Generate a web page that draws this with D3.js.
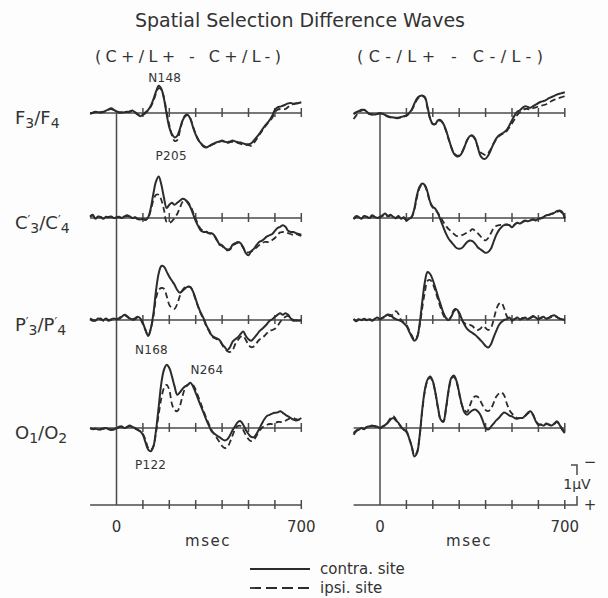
<!DOCTYPE html>
<html><head><meta charset="utf-8">
<script src="https://cdn.jsdelivr.net/npm/d3@7"></script>
<style>
body{margin:0;background:#fdfdfd;}
svg{display:block;}
text{font-family:"DejaVu Sans",sans-serif;fill:#333;}
</style></head><body>
<svg id="c" width="608" height="598"></svg>
<script>
// ---- data ----
const times = d3.range(-100, 701, 10);           // msec, one sample each 10 ms
const xTickValues = [100, 200, 300, 400, 500, 600, 700];
const xTickLabels = ["0", "700"];
const title = "Spatial Selection Difference Waves";
const conditions = ["(C+/L+ - C+/L-)", "(C-/L+ - C-/L-)"];
const seriesNames = ["contra. site", "ipsi. site"];
// values in microvolts, negative plotted upward

const fLeftContra = [0.01,-0.01,-0.03,-0.02,-0.02,-0.03,-0.06,-0.09,-0.12,-0.08,
 -0.04,-0.02,-0.01,-0.02,-0.03,-0.04,-0.06,-0.02,0.03,0.08,
 0.04,-0.02,-0.08,-0.18,-0.35,-0.54,-0.68,-0.6,-0.35,0.03,
 0.36,0.53,0.61,0.57,0.4,0.19,0.08,0.05,0.15,0.36,
 0.54,0.68,0.76,0.84,0.86,0.83,0.79,0.76,0.73,0.71,
 0.69,0.72,0.73,0.71,0.69,0.71,0.73,0.74,0.76,0.78,
 0.78,0.76,0.69,0.61,0.53,0.43,0.34,0.26,0.18,0.07,
 -0.08,-0.14,-0.16,-0.18,-0.21,-0.24,-0.25,-0.23,-0.24,-0.25,
 -0.27];
const fLeftIpsi = [0.02,0.0,-0.02,-0.03,-0.01,-0.02,-0.05,-0.08,-0.1,-0.07,
 -0.03,-0.01,-0.02,-0.03,-0.02,-0.03,-0.05,-0.01,0.04,0.07,
 0.05,0.0,-0.06,-0.16,-0.3,-0.5,-0.62,-0.58,-0.38,-0.02,
 0.3,0.56,0.7,0.68,0.45,0.2,0.06,0.04,0.14,0.34,
 0.52,0.66,0.76,0.82,0.85,0.84,0.8,0.77,0.74,0.72,
 0.7,0.73,0.75,0.73,0.72,0.73,0.75,0.77,0.79,0.8,
 0.8,0.82,0.75,0.66,0.56,0.46,0.37,0.28,0.2,0.12,
 -0.02,-0.08,-0.1,-0.1,-0.1,-0.15,-0.2,-0.22,-0.24,-0.24,
 -0.25];
const fRightContra = [0.03,-0.02,-0.05,-0.08,-0.08,-0.03,0.02,0.03,0.04,0.02,
 0,0.02,0.05,0.08,0.1,0.11,0.12,0.12,0.1,0.08,
 0.06,0,-0.08,-0.23,-0.36,-0.42,-0.44,-0.4,-0.15,0.14,
 0.27,0.27,0.18,0.18,0.27,0.43,0.64,0.85,1.02,1.08,
 1.08,1.0,0.85,0.68,0.58,0.56,0.64,0.85,1.06,1.14,
 1.14,1.06,0.92,0.77,0.64,0.56,0.52,0.48,0.42,0.31,
 0.18,0.06,-0.03,-0.07,-0.13,-0.17,-0.15,-0.13,-0.17,-0.21,
 -0.25,-0.28,-0.3,-0.33,-0.37,-0.4,-0.43,-0.46,-0.48,-0.5,
 -0.52];
const fRightIpsi = [0.15,0.06,-0.03,-0.06,-0.07,-0.02,0.03,0.04,0.05,0.03,
 0.01,0.03,0.06,0.09,0.11,0.12,0.13,0.13,0.11,0.09,
 0.07,0.01,-0.07,-0.2,-0.33,-0.4,-0.42,-0.38,-0.12,0.15,
 0.28,0.28,0.2,0.2,0.28,0.45,0.66,0.86,1.0,1.06,
 1.06,0.98,0.84,0.68,0.6,0.58,0.66,0.84,0.98,1.02,
 1.05,1.0,0.9,0.77,0.66,0.58,0.54,0.5,0.45,0.36,
 0.26,0.15,0.05,-0.02,-0.08,-0.1,-0.1,-0.08,-0.12,-0.14,
 -0.16,-0.18,-0.2,-0.22,-0.26,-0.3,-0.33,-0.36,-0.38,-0.4,
 -0.42];
const cLeftContra = [-0.04,-0.08,0.02,-0.04,-0.02,0.02,-0.03,-0.02,-0.04,0,
 -0.02,-0.03,0,-0.04,-0.07,-0.04,0,-0.02,0.02,0.04,
 0.02,0.05,-0.02,-0.25,-0.62,-0.92,-1.04,-0.83,-0.5,-0.25,
 -0.33,-0.38,-0.33,-0.38,-0.43,-0.48,-0.46,-0.38,-0.27,-0.1,
 0.07,0.21,0.32,0.35,0.35,0.38,0.38,0.43,0.54,0.65,
 0.68,0.75,0.79,0.77,0.67,0.63,0.6,0.63,0.73,0.88,
 0.93,0.83,0.77,0.68,0.6,0.57,0.52,0.46,0.43,0.4,
 0.32,0.25,0.22,0.18,0.22,0.32,0.35,0.35,0.38,0.4,
 0.42];
const cLeftIpsi = [-0.02,-0.06,0.01,-0.03,-0.03,0.01,-0.02,-0.03,-0.03,0.01,
 -0.01,-0.02,0.01,-0.03,-0.05,-0.03,0.01,-0.01,0.03,0.05,
 0.03,0.04,-0.01,-0.2,-0.45,-0.58,-0.58,-0.45,-0.2,0.1,
 0.12,0.08,0.0,-0.1,-0.25,-0.4,-0.44,-0.4,-0.3,-0.15,
 0.02,0.17,0.28,0.33,0.34,0.38,0.4,0.45,0.56,0.67,
 0.7,0.77,0.81,0.79,0.69,0.65,0.62,0.65,0.75,0.85,
 0.86,0.84,0.8,0.74,0.68,0.65,0.6,0.6,0.6,0.55,
 0.5,0.42,0.36,0.35,0.35,0.38,0.4,0.42,0.4,0.42,
 0.45];
const cRightContra = [0.02,-0.05,-0.02,0.02,-0.05,-0.03,0,-0.07,-0.03,0,
 -0.03,-0.07,-0.11,-0.05,-0.08,-0.03,0,-0.05,0.02,-0.02,
 0.06,0.02,-0.03,-0.23,-0.57,-0.78,-0.86,-0.82,-0.65,-0.4,
 -0.28,-0.23,-0.11,0.06,0.23,0.39,0.52,0.6,0.68,0.75,
 0.77,0.75,0.68,0.6,0.56,0.58,0.64,0.73,0.78,0.83,
 0.87,0.85,0.77,0.6,0.43,0.31,0.23,0.18,0.17,0.18,
 0.23,0.17,0.12,0.14,0.1,0.06,0.08,0.06,0.03,0.06,
 0.02,0,-0.03,-0.07,-0.08,-0.11,-0.13,-0.17,-0.19,-0.15,
 0];
const cRightIpsi = [0.03,-0.03,-0.03,0.01,-0.04,-0.02,0.01,-0.05,-0.02,0.01,
 -0.02,-0.05,-0.09,-0.04,-0.06,-0.02,0.01,-0.03,0.03,0,
 0.05,0.03,-0.02,-0.2,-0.52,-0.75,-0.84,-0.8,-0.62,-0.38,
 -0.26,-0.2,-0.12,-0.02,0.1,0.2,0.28,0.33,0.4,0.45,
 0.45,0.43,0.4,0.36,0.33,0.28,0.32,0.38,0.45,0.52,
 0.56,0.5,0.38,0.26,0.2,0.18,0.17,0.16,0.16,0.18,
 0.22,0.16,0.12,0.13,0.1,0.07,0.08,0.05,0.04,0.06,
 0.03,0.01,-0.02,-0.06,-0.08,-0.1,-0.12,-0.15,-0.17,-0.12,
 0.02];
const pLeftContra = [-0.04,0,0.02,-0.04,-0.02,0,-0.04,0,-0.02,-0.04,
 -0.02,-0.03,-0.08,-0.13,-0.1,-0.04,-0.02,-0.04,-0.08,-0.04,
 0.08,0.25,0.4,0.21,-0.17,-0.75,-1.17,-1.35,-1.33,-1.21,
 -1.08,-0.98,-0.88,-0.75,-0.68,-0.73,-0.79,-0.83,-0.82,-0.71,
 -0.52,-0.33,-0.17,-0.04,0.13,0.25,0.38,0.43,0.46,0.5,
 0.6,0.68,0.75,0.68,0.54,0.48,0.43,0.35,0.29,0.4,
 0.48,0.52,0.46,0.38,0.29,0.23,0.17,0.1,0.02,-0.02,
 -0.08,-0.13,-0.17,-0.13,-0.17,-0.13,-0.04,0.02,0,0.02,
 0];
const pLeftIpsi = [-0.02,0.02,0.01,-0.02,-0.04,0.02,-0.02,0.02,0,-0.03,
 -0.03,-0.05,-0.1,-0.12,-0.08,-0.03,0,-0.02,-0.06,-0.02,
 0.1,0.26,0.4,0.22,-0.1,-0.55,-0.75,-0.8,-0.78,-0.6,
 -0.38,-0.3,-0.28,-0.4,-0.6,-0.75,-0.82,-0.85,-0.82,-0.7,
 -0.5,-0.31,-0.15,-0.02,0.15,0.27,0.4,0.45,0.48,0.52,
 0.62,0.72,0.78,0.8,0.75,0.6,0.5,0.42,0.4,0.5,
 0.62,0.68,0.66,0.58,0.5,0.45,0.4,0.33,0.27,0.25,
 0.22,0.15,0.05,-0.02,-0.08,-0.1,-0.05,0,0.02,0.02,
 0];
const pRightContra = [-0.03,0.03,-0.02,0,-0.03,0,-0.02,0.02,-0.03,-0.06,
 -0.02,-0.06,-0.1,-0.14,-0.12,-0.06,-0.02,0,0.03,0.08,
 0.15,0.28,0.42,0.52,0.45,0.1,-0.45,-0.95,-1.2,-1.15,
 -1.0,-0.8,-0.58,-0.38,-0.18,-0.05,0,-0.08,-0.22,-0.27,
 -0.18,-0.02,0.12,0.22,0.28,0.32,0.37,0.43,0.5,0.57,
 0.65,0.69,0.61,0.44,0.28,0.13,0.05,0,-0.02,-0.06,
 0,-0.02,-0.06,-0.02,-0.03,-0.06,-0.02,-0.06,-0.1,-0.06,
 -0.02,-0.06,-0.08,-0.03,-0.06,-0.1,-0.12,-0.08,-0.03,-0.02,
 0];
const pRightIpsi = [-0.02,0.02,-0.03,0.01,-0.02,0.01,-0.03,0.01,-0.02,-0.04,
 -0.03,-0.05,-0.08,-0.12,-0.1,-0.15,-0.22,-0.15,0,0.06,
 0.12,0.25,0.38,0.48,0.42,0.15,-0.3,-0.7,-0.98,-1.0,
 -0.9,-0.72,-0.5,-0.3,-0.12,-0.02,0,-0.1,-0.25,-0.28,
 -0.15,0,0.08,0.12,0.12,0.15,0.22,0.25,0.22,0.15,
 0.2,0.25,0.2,0.0,-0.25,-0.4,-0.43,-0.3,-0.1,0,
 0.02,-0.03,-0.04,-0.01,-0.05,-0.04,-0.03,-0.05,-0.08,-0.05,
 -0.03,-0.05,-0.07,-0.04,-0.05,-0.08,-0.1,-0.07,-0.04,-0.01,
 0.01];
const oLeftContra = [0,0.03,0.01,0.04,0.03,0.01,0,0.03,0.04,0.03,
 0.01,-0.03,-0.04,0,-0.03,-0.06,-0.03,0,0.04,0.08,
 0.17,0.36,0.54,0.58,0.46,0.04,-0.54,-1.13,-1.46,-1.58,
 -1.5,-1.29,-1.04,-0.83,-0.89,-0.98,-1.04,-1.08,-1.13,-1.04,
 -0.88,-0.71,-0.54,-0.38,-0.21,-0.06,0.08,0.14,0.19,0.23,
 0.28,0.31,0.28,0.18,0.05,-0.05,-0.15,-0.17,-0.08,0.05,
 0.15,0.22,0.23,0.15,0.03,-0.1,-0.22,-0.3,-0.33,-0.36,
 -0.38,-0.39,-0.42,-0.38,-0.33,-0.29,-0.25,-0.21,-0.19,-0.21,
 -0.25];
const oLeftIpsi = [0.01,0.02,0.02,0.03,0.04,0.02,0.01,0.02,0.05,0.04,
 0.02,-0.02,-0.03,0.01,-0.02,-0.05,-0.02,0.01,0.05,0.09,
 0.15,0.3,0.5,0.55,0.45,0.1,-0.35,-0.75,-1.0,-1.08,
 -0.95,-0.6,-0.45,-0.42,-0.55,-0.8,-1.0,-1.08,-1.12,-1.08,
 -0.95,-0.78,-0.6,-0.42,-0.25,-0.1,0.05,0.15,0.25,0.35,
 0.45,0.5,0.48,0.35,0.18,0.02,-0.05,-0.05,0.05,0.18,
 0.28,0.33,0.3,0.2,0.08,0.0,-0.05,-0.08,-0.1,-0.1,
 -0.12,-0.15,-0.15,-0.15,-0.18,-0.22,-0.25,-0.25,-0.22,-0.2,
 -0.22];
const oRightContra = [0.17,0.08,0.04,0,0.03,-0.03,-0.04,-0.06,-0.04,-0.03,
 0,-0.04,-0.08,-0.13,-0.21,-0.25,-0.19,-0.13,-0.03,0.04,
 0.08,0.25,0.46,0.71,0.63,0.21,-0.46,-0.96,-1.21,-1.29,
 -1.17,-0.88,-0.5,-0.21,-0.17,-0.5,-0.96,-1.25,-1.31,-1.17,
 -0.88,-0.58,-0.39,-0.33,-0.39,-0.44,-0.46,-0.42,-0.33,-0.17,
 0,0.04,-0.03,-0.11,-0.19,-0.25,-0.33,-0.39,-0.36,-0.31,
 -0.29,-0.25,-0.23,-0.25,-0.25,-0.31,-0.38,-0.42,-0.33,-0.17,
 -0.08,-0.08,-0.06,-0.11,-0.08,-0.06,-0.11,-0.17,-0.08,0.04,
 0.13];
const oRightIpsi = [0.12,0.06,0.03,0.01,0.02,-0.02,-0.03,-0.05,-0.05,-0.02,
 0.01,-0.03,-0.07,-0.15,-0.25,-0.3,-0.22,-0.12,-0.02,0.05,
 0.1,0.26,0.45,0.68,0.6,0.2,-0.42,-0.92,-1.18,-1.26,
 -1.15,-0.86,-0.48,-0.2,-0.15,-0.48,-0.92,-1.22,-1.28,-1.15,
 -0.85,-0.58,-0.45,-0.4,-0.55,-0.72,-0.79,-0.78,-0.68,-0.55,
 -0.45,-0.42,-0.48,-0.62,-0.78,-0.86,-0.89,-0.82,-0.62,-0.45,
 -0.36,-0.3,-0.25,-0.25,-0.26,-0.3,-0.36,-0.4,-0.32,-0.18,
 -0.1,-0.09,-0.07,-0.1,-0.09,-0.07,-0.1,-0.15,-0.09,0.02,
 0.1];

const peakLabels = [
  {text: "N148", panel: 0, t: 120, row: 0, v: -0.78},
  {text: "P205", panel: 0, t: 148, row: 0, v: 1.17},
  {text: "N168", panel: 0, t: 70, row: 3, v: -1.85},
  {text: "N264", panel: 0, t: 280, row: 3, v: -1.35},
  {text: "P122", panel: 0, t: 70, row: 3, v: 1.02}
];

// ---- layout ----
const svg = d3.select("#c");
svg.append("rect").attr("width", 608).attr("height", 598).attr("fill", "#fdfdfd");

const xScales = [
  d3.scaleLinear().domain([-100, 700]).range([90.1, 301.3]),
  d3.scaleLinear().domain([-100, 700]).range([353.6, 564.8])
];
const rowBase = [113, 218, 320, 428];
const bottomAxisY = 505;
const pxPerUV = 40;
const yScales = rowBase.map(b => d3.scaleLinear().domain([-1, 1]).range([b - pxPerUV, b + pxPerUV]));

const data = [
  [[fLeftContra, fLeftIpsi], [cLeftContra, cLeftIpsi], [pLeftContra, pLeftIpsi], [oLeftContra, oLeftIpsi]],
  [[fRightContra, fRightIpsi], [cRightContra, cRightIpsi], [pRightContra, pRightIpsi], [oRightContra, oRightIpsi]]
];

// title
svg.append("text").attr("x", 300).attr("y", 27).attr("text-anchor", "middle")
  .attr("font-size", 19).attr("textLength", 330).attr("lengthAdjust", "spacing").text(title);
conditions.forEach((c, i) => {
  svg.append("text").attr("x", [188, 450][i]).attr("y", 62).attr("text-anchor", "middle")
    .attr("font-size", 16).attr("textLength", 186).attr("lengthAdjust", "spacing").text(c);
});

// axes per panel
xScales.forEach((x, pi) => {
  const g = svg.append("g");
  const baseLines = rowBase.concat([bottomAxisY]);
  baseLines.forEach(b => {
    g.append("line").attr("x1", x(-100)).attr("x2", x(700)).attr("y1", b).attr("y2", b)
      .attr("stroke", "#4a4a4a").attr("stroke-width", 1.5);
    g.selectAll(null).data(xTickValues).enter().append("line")
      .attr("x1", d => x(d)).attr("x2", d => x(d)).attr("y1", b - 5).attr("y2", b + 4)
      .attr("stroke", "#4a4a4a").attr("stroke-width", 1.5);
  });
  g.append("line").attr("x1", x(0)).attr("x2", x(0)).attr("y1", rowBase[0]).attr("y2", bottomAxisY)
    .attr("stroke", "#4a4a4a").attr("stroke-width", 1.5);
  g.append("text").attr("x", x(0)).attr("y", 532).attr("text-anchor", "middle").attr("font-size", 15).text(xTickLabels[0]);
  g.append("text").attr("x", x(700)).attr("y", 532).attr("text-anchor", "middle").attr("font-size", 15).text(xTickLabels[1]);
  g.append("text").attr("x", [208, 469][pi]).attr("y", 546).attr("text-anchor", "middle").attr("font-size", 15)
    .attr("letter-spacing", 1.5).text("msec");

  // waves
  data[pi].forEach((pair, ri) => {
    const y = yScales[ri];
    const line = d3.line().x((d, i) => x(times[i])).y(d => y(d)).curve(d3.curveCatmullRom.alpha(0.5));
    g.append("path").attr("d", line(pair[1])).attr("fill", "none").attr("stroke", "#2c2c2c")
      .attr("stroke-width", 1.8).attr("stroke-dasharray", "6,3.5");
    g.append("path").attr("d", line(pair[0])).attr("fill", "none").attr("stroke", "#2c2c2c")
      .attr("stroke-width", 2);
  });
});

// peak labels
peakLabels.forEach(p => {
  svg.append("text").attr("x", xScales[p.panel](p.t)).attr("y", yScales[p.row](p.v))
    .attr("font-size", 12).attr("letter-spacing", 0.3).text(p.text);
});

// row labels with sub/superscripts
const rowLabels = [
  [["F"], ["3", "sub"], ["/"], ["F"], ["4", "sub"]],
  [["C"], ["\u2032", "sup"], ["3", "sub"], ["/"], ["C"], ["\u2032", "sup"], ["4", "sub"]],
  [["P"], ["\u2032", "sup"], ["3", "sub"], ["/"], ["P"], ["\u2032", "sup"], ["4", "sub"]],
  [["O"], ["1", "sub"], ["/"], ["O"], ["2", "sub"]]
];
rowLabels.forEach((parts, ri) => {
  const t = svg.append("text").attr("x", 15).attr("y", rowBase[ri] + 11).attr("font-size", 18);
  let off = 0;
  parts.forEach(([s, kind]) => {
    let target = 0, size = 18;
    if (kind === "sub") { target = 4; size = 14; }
    if (kind === "sup") { target = -5; size = 12; }
    t.append("tspan").attr("dy", target - off).attr("font-size", size).text(s);
    off = target;
  });
});

// scale bar
const sb = svg.append("g").attr("stroke", "#4a4a4a").attr("stroke-width", 1.5).attr("fill", "none");
const sbX = 577, sbTop = bottomAxisY - pxPerUV;
sb.append("path").attr("d", `M${sbX - 6},${sbTop} H${sbX} V${sbTop + 10}`);
sb.append("path").attr("d", `M${xScales[1](700)},${bottomAxisY} H${sbX} V${bottomAxisY - 9}`);
svg.append("text").attr("x", sbX).attr("y", sbTop + 24).attr("text-anchor", "middle").attr("font-size", 14).text("1\u00B5V");
svg.append("text").attr("x", 590).attr("y", sbTop + 2).attr("text-anchor", "middle").attr("font-size", 15).text("\u2212");
svg.append("text").attr("x", 590).attr("y", bottomAxisY + 5).attr("text-anchor", "middle").attr("font-size", 15).text("+");

// legend
const lg = svg.append("g");
[569, 588].forEach((yy, i) => {
  lg.append("line").attr("x1", 250).attr("x2", 310).attr("y1", yy).attr("y2", yy)
    .attr("stroke", "#2c2c2c").attr("stroke-width", 1.8).attr("stroke-dasharray", i ? "11,5" : null);
  lg.append("text").attr("x", 320).attr("y", yy + 5).attr("font-size", 15).text(seriesNames[i]);
});
</script>
</body></html>
